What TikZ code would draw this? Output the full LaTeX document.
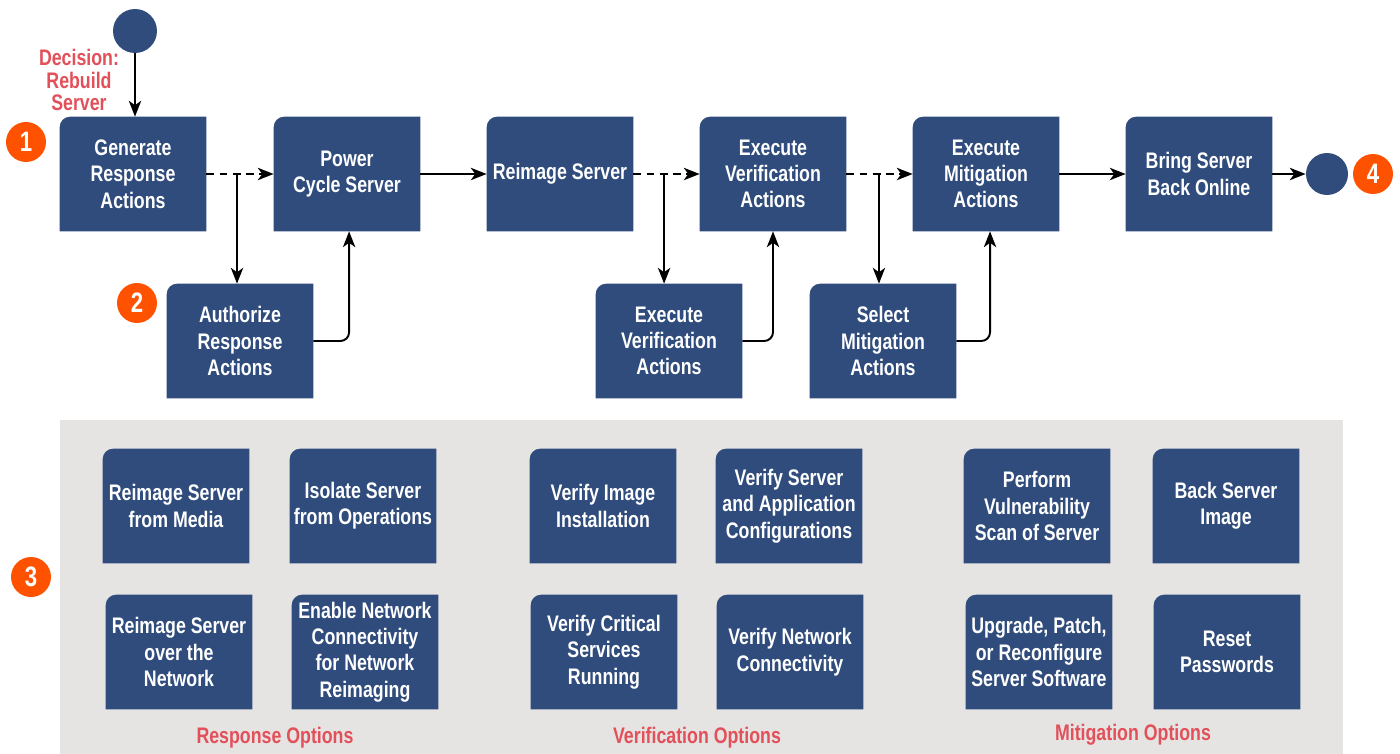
\documentclass[tikz,border=0pt]{standalone}
\usepackage{fontspec}
\setmainfont{Liberation Sans}[FakeStretch=0.79]
\usetikzlibrary{arrows.meta}
\pgfdeclarelayer{background}
\pgfsetlayers{background,main}
\definecolor{boxblue}{HTML}{2F4C7C}
\definecolor{badgeorange}{HTML}{FF5200}
\definecolor{optred}{HTML}{E2505A}
\definecolor{panelgrey}{HTML}{E6E4E3}

\begin{document}
\begin{tikzpicture}[%
        x=0.02cm, y=-0.02cm,
        every node/.style={font=\bfseries\fontsize{12.8}{15}\selectfont},
        actbox/.style={text=white, align=center, minimum width=2.92cm, minimum height=2.28cm, inner sep=0pt},
        badge/.style={circle, fill=badgeorange, text=white, minimum size=0.8cm, inner sep=0pt, font=\bfseries\fontsize{16}{16}\selectfont},
        terminal/.style={circle, fill=boxblue, inner sep=0pt},
        redlabel/.style={text=optred, align=center, font=\bfseries\fontsize{12.8}{13}\selectfont},
        arr/.style={-{Stealth[length=9pt,width=7pt,inset=2.5pt]}, line width=1.1pt},
        dashline/.style={dash pattern=on 4.5pt off 3pt}
        ]
        \useasboundingbox (0,0) rectangle (1400,754);

        % main flow
        \node[terminal, minimum size=0.88cm] (start) at (135,31) {};
        \node[redlabel] (decide) at (79,80) {Decision:\\Rebuild\\Server};
        \node[actbox] (gen) at (133,174) {Generate\\Response\\Actions};
        \node[actbox] (power) at (347,174) {Power\\Cycle Server};
        \node[actbox] (reimg) at (560,174) {Reimage Server};
        \node[actbox] (exv) at (773,174) {Execute\\Verification\\Actions};
        \node[actbox] (exm) at (986,174) {Execute\\Mitigation\\Actions};
        \node[actbox] (bring) at (1199,174) {Bring Server\\Back Online};
        \node[terminal, minimum size=0.84cm] (finish) at (1327,174) {};
        \node[actbox] (auth) at (240,341) {Authorize\\Response\\Actions};
        \node[actbox] (exvb) at (669,341) {Execute\\Verification\\Actions};
        \node[actbox] (selm) at (883,341) {Select\\Mitigation\\Actions};

        % option boxes
        \node[actbox] (reimmedia) at (176,506) {Reimage Server\\from Media};
        \node[actbox] (isolate) at (363,506) {Isolate Server\\from Operations};
        \node[actbox] (verimg) at (603,506) {Verify Image\\Installation};
        \node[actbox] (verconf) at (789,506) {Verify Server\\and Application\\Configurations};
        \node[actbox] (vulnscan) at (1037,506) {Perform\\Vulnerability\\Scan of Server};
        \node[actbox] (backimg) at (1226,506) {Back Server\\Image};
        \node[actbox] (reimnet) at (179,652) {Reimage Server\\over the\\Network};
        \node[actbox] (enablenet) at (365,652) {Enable Network\\Connectivity\\for Network\\Reimaging};
        \node[actbox] (vercrit) at (604,652) {Verify Critical\\Services\\Running};
        \node[actbox] (vernet) at (790,652) {Verify Network\\Connectivity};
        \node[actbox] (upgrade) at (1039,652) {Upgrade, Patch,\\or Reconfigure\\Server Software};
        \node[actbox] (resetpw) at (1227,652) {Reset\\Passwords};

        \node[redlabel] (respopt) at (275,738) {Response Options};
        \node[redlabel] (veropt) at (697,738) {Verification Options};
        \node[redlabel] (mitopt) at (1133,735) {Mitigation Options};

        % badges
        \node[badge] (b1) at (26,142) {1};
        \node[badge] (b2) at (137,303) {2};
        \node[badge] (b3) at (31,577) {3};
        \node[badge] (b4) at (1373,174) {4};

        % box fills with one rounded corner
        \begin{pgfonlayer}{background}
            \fill[panelgrey] (60,420) rectangle (1343,754);
            \foreach \n in {gen,power,reimg,exv,exm,bring,auth,exvb,selm,
                reimmedia,isolate,verimg,verconf,vulnscan,backimg,
                reimnet,enablenet,vercrit,vernet,upgrade,resetpw}
                \fill[boxblue] (\n.south west) -- ([yshift=-6pt]\n.north west)
                    arc[start angle=180, end angle=90, radius=6pt]
                    -- (\n.north east) -- (\n.south east) -- cycle;
        \end{pgfonlayer}

        % connectors
        \draw[arr] (start.south) -- (start.south |- gen.north);
        \draw[arr, dashline] (gen) -- (power);
        \draw[arr] ([xshift=-1.7pt]auth.north |- gen.east) -- ([xshift=-1.7pt]auth.north);
        \draw[arr, rounded corners=5pt] (auth.east) -| ([xshift=1.2pt]power.south);
        \draw[arr] (power) -- (reimg);
        \draw[arr, dashline] (reimg) -- (exv);
        \draw[arr] ([xshift=-2.8pt]exvb.north |- reimg.east) -- ([xshift=-2.8pt]exvb.north);
        \draw[arr, rounded corners=5pt] (exvb.east) -| (exv.south);
        \draw[arr, dashline] (exv) -- (exm);
        \draw[arr] ([xshift=-2.3pt]selm.north |- exv.east) -- ([xshift=-2.3pt]selm.north);
        \draw[arr, rounded corners=5pt] (selm.east) -| ([xshift=2.3pt]exm.south);
        \draw[arr] (exm) -- (bring);
        \draw[arr] (bring) -- (finish);
\end{tikzpicture}
\end{document}
